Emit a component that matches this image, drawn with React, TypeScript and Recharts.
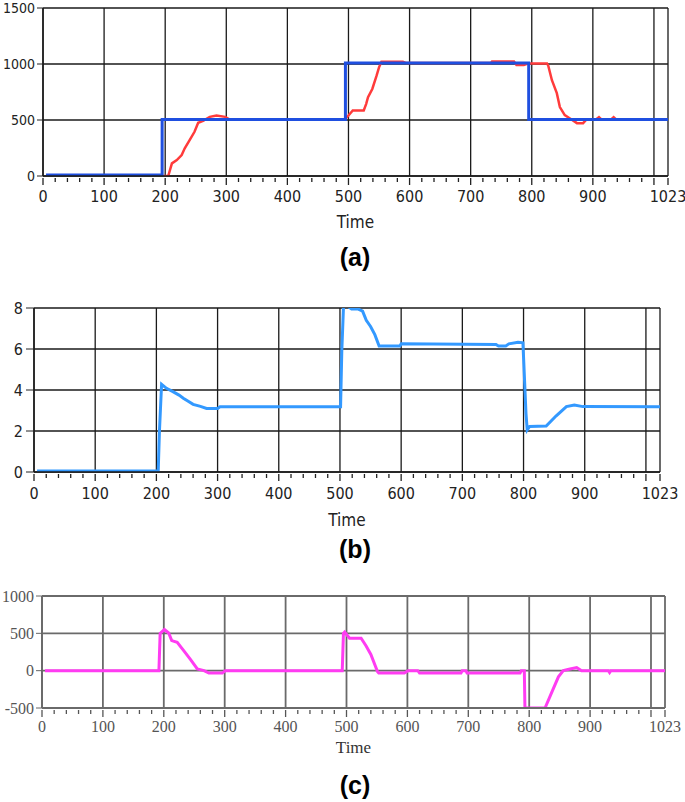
import {LineChart, Line, XAxis, YAxis, CartesianGrid} from 'recharts';

// x axis ticks (Time) - labelled majors + 1023 end
const timeMajors = [0, 100, 200, 300, 400, 500, 600, 700, 800, 900, 1000];
const timeGrid = [0, 100, 200, 300, 400, 500, 600, 700, 800, 900, 1000, 1023];
const timeTicks = [...timeMajors.flatMap((m) => (m < 1000 ? [m, m + 20, m + 40, m + 60, m + 80] : [m])), 1023];

// (a) set point and measured output
const setPointA: [number, number][] = [
  [5, 10], [195, 10], [195, 505], [495, 505], [495, 1010], [795, 1010], [795, 505], [1023, 505],
];
const outputA: [number, number][] = [
  [5, 0], [195, 0], [205, 0], [211, 113], [219, 142], [227, 187], [232, 247], [240, 320], [248, 395],
  [254, 475], [262, 492], [273, 528], [284, 540], [298, 528], [305, 505], [494, 505], [500, 540],
  [507, 585], [525, 585], [529, 644], [532, 703], [539, 777], [546, 896], [550, 970], [554, 1020],
  [589, 1020], [595, 1008], [733, 1008], [735, 1022], [771, 1022], [775, 990], [787, 990], [795, 1005],
  [825, 1005], [827, 985], [833, 855], [841, 740], [846, 615], [854, 543], [862, 516], [874, 472],
  [884, 472], [890, 507], [905, 505], [910, 525], [914, 505], [930, 505], [934, 525], [938, 505], [1023, 505],
];
const yTicksA = [0, 500, 1000, 1500];

// (b) control signal
const signalB: [number, number][] = [
  [5, 0.05], [203, 0.05], [205, 2.0], [208.5, 4.28], [216.5, 4.08], [227, 3.92], [237, 3.75], [244, 3.6],
  [252, 3.45], [260, 3.3], [272, 3.2], [282, 3.1], [300, 3.1], [304, 3.18], [501, 3.18], [503, 5.9],
  [506, 8.25], [512, 8.1], [519, 7.95], [530, 7.95], [537, 7.85], [543, 7.4], [550, 7.1], [557, 6.7],
  [564, 6.15], [598, 6.15], [600, 6.25], [755, 6.22], [759, 6.15], [771, 6.15], [776, 6.25], [791, 6.33],
  [799, 6.3], [804, 2.85], [806, 2.05], [810, 2.22], [837, 2.24], [853, 2.73], [870, 3.19], [883, 3.27],
  [897, 3.19], [1023, 3.18],
];
const yTicksB = [0, 2, 4, 6, 8];

// (c) error
const errorC: [number, number][] = [
  [5, 0], [192, 0], [194, 500], [201, 551], [208, 505], [213, 403], [222, 380], [233, 264], [244, 148],
  [255, 23], [266, 0], [274, -32], [296, -32], [301, 0], [493, 0], [495, 500], [497, 518], [505, 435],
  [524, 435], [532, 333], [540, 218], [551, -14], [553, -32], [595, -32], [601, 0], [617, 0], [620, -32],
  [688, -32], [690, 0], [696, 0], [698, -32], [785, -32], [787, 0], [792, 0], [793, -500], [826, -500],
  [837, -292], [848, -83], [856, 0], [867, 23], [878, 42], [886, 0], [930, 0], [932, -25], [934, 0], [1023, 0],
];
const yTicksC = [-500, 0, 500, 1000];

const toRows = (pts: [number, number][]) => pts.map(([t, v]) => ({t, v}));

const SANS = "'Liberation Sans Narrow', 'DejaVu Sans Condensed', 'Open Sans', sans-serif";
const SERIF = "'Liberation Serif', 'DejaVu Serif', serif";

function TimeTick(props: any) {
  const {x, y, payload, font, color, labelDy} = props;
  const v = payload.value;
  const major = v % 100 === 0 || v === 1023;
  const showLabel = major && v !== 1000;
  return (
    <g>
      <line x1={x} x2={x} y1={y + 2} y2={y + (major ? 9 : 6)} stroke={color} strokeWidth={1.3} />
      {showLabel && (
        <text x={x} y={y + labelDy} textAnchor="middle" fill={color} fontSize={16} fontFamily={font}>
          {v}
        </text>
      )}
    </g>
  );
}

function Caption({text, top}: {text: string; top: number}) {
  return (
    <div
      style={{
        position: 'absolute', left: 0, top: top - 15, width: 710, height: 30, lineHeight: '30px',
        textAlign: 'center', fontFamily: "'Liberation Sans', Arial, sans-serif", fontWeight: 'bold', fontSize: 25,
      }}
    >
      {text}
    </div>
  );
}

export default function App() {
  return (
    <div style={{position: 'absolute', left: 0, top: 0, width: 685, height: 802, background: '#fff'}}>
      {/* (a) */}
      <div style={{position: 'absolute', left: 0, top: 0}}>
        <LineChart width={685} height={240} margin={{top: 8, right: 17, left: 3, bottom: 12}}>
          <CartesianGrid stroke="#1a1a1a" strokeWidth={1.3} horizontalValues={yTicksA} verticalValues={timeGrid} />
          <XAxis
            type="number" dataKey="t" domain={[0, 1023]} ticks={timeTicks} interval={0} allowDataOverflow
            tickSize={0} tickMargin={0} height={52} axisLine={{stroke: '#1a1a1a', strokeWidth: 1.5}}
            tick={(p: any) => <TimeTick {...p} font={SANS} color="#222" labelDy={26} />}
            label={{value: 'Time', position: 'insideBottom', offset: 0, fill: '#222', fontSize: 17, fontFamily: SANS}}
          />
          <YAxis
            type="number" domain={[0, 1500]} ticks={yTicksA} interval={0} width={40} allowDataOverflow
            tickSize={6} tickMargin={2} axisLine={{stroke: '#1a1a1a', strokeWidth: 1.5}} tickLine={{stroke: '#222'}}
            tick={{fill: '#222', fontSize: 14, fontFamily: SANS}}
          />
          <Line data={toRows(outputA)} dataKey="v" type="linear" stroke="#ff3b3b" strokeWidth={2.5} dot={false} isAnimationActive={false} />
          <Line data={toRows(setPointA)} dataKey="v" type="linear" stroke="#1f4fe0" strokeWidth={3} dot={false} isAnimationActive={false} />
        </LineChart>
      </div>
      <Caption text="(a)" top={257} />

      {/* (b) */}
      <div style={{position: 'absolute', left: 0, top: 290}}>
        <LineChart width={685} height={250} margin={{top: 18, right: 25, left: 3, bottom: 14}}>
          <CartesianGrid stroke="#1a1a1a" strokeWidth={1.3} horizontalValues={yTicksB} verticalValues={timeGrid} />
          <XAxis
            type="number" dataKey="t" domain={[0, 1023]} ticks={timeTicks} interval={0} allowDataOverflow
            tickSize={0} tickMargin={0} height={54} axisLine={{stroke: '#1a1a1a', strokeWidth: 1.5}}
            tick={(p: any) => <TimeTick {...p} font={SANS} color="#222" labelDy={27} />}
            label={{value: 'Time', position: 'insideBottom', offset: 0, fill: '#222', fontSize: 17, fontFamily: SANS}}
          />
          <YAxis
            type="number" domain={[0, 8]} ticks={yTicksB} interval={0} width={31} allowDataOverflow
            tickSize={8} tickMargin={3} axisLine={{stroke: '#1a1a1a', strokeWidth: 1.5}} tickLine={{stroke: '#222'}}
            tick={{fill: '#222', fontSize: 16, fontFamily: SANS}}
          />
          <Line data={toRows(signalB)} dataKey="v" type="linear" stroke="#3399ff" strokeWidth={3} dot={false} isAnimationActive={false} />
        </LineChart>
      </div>
      <Caption text="(b)" top={549} />

      {/* (c) */}
      <div style={{position: 'absolute', left: 0, top: 580}}>
        <LineChart width={685} height={180} margin={{top: 16, right: 20, left: 3, bottom: 7}}>
          <CartesianGrid stroke="#6a6a6a" strokeWidth={1.8} horizontalValues={yTicksC} verticalValues={timeGrid} />
          <XAxis
            type="number" dataKey="t" domain={[0, 1023]} ticks={timeTicks} interval={0} allowDataOverflow
            tickSize={0} tickMargin={0} height={45} axisLine={{stroke: '#6a6a6a', strokeWidth: 1.8}}
            tick={(p: any) => <TimeTick {...p} font={SERIF} color="#555" labelDy={24} />}
            label={{value: 'Time', position: 'insideBottom', offset: 0, fill: '#333', fontSize: 17, fontFamily: SERIF}}
          />
          <YAxis
            type="number" domain={[-500, 1000]} ticks={yTicksC} interval={0} width={39} allowDataOverflow
            tickSize={6} tickMargin={2} axisLine={{stroke: '#6a6a6a', strokeWidth: 1.8}} tickLine={{stroke: '#666'}}
            tick={{fill: '#555', fontSize: 16, fontFamily: SERIF}}
          />
          <Line data={toRows(errorC)} dataKey="v" type="linear" stroke="#ff3cf2" strokeWidth={3} dot={false} isAnimationActive={false} />
        </LineChart>
      </div>
      <Caption text="(c)" top={785} />
    </div>
  );
}
